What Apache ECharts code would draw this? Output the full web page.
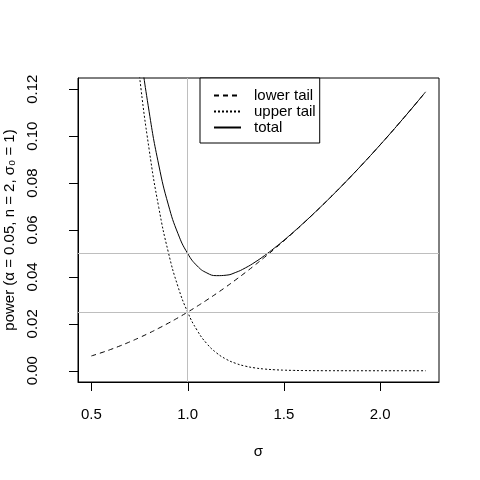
<!DOCTYPE html>
<html>
<head>
<meta charset="utf-8">
<script src="https://cdn.jsdelivr.net/npm/echarts@6/dist/echarts.min.js"></script>
<style>
    html, body { margin: 0; padding: 0; background: #fff; }
    #main { width: 480px; height: 480px; }
</style>
</head>
<body>
<div id="main"></div>
<script>
// sigma values along the x axis
var sigma = [0.50, 0.55, 0.60, 0.65, 0.70, 0.75, 0.80, 0.85, 0.90, 0.95,
    1.00, 1.05, 1.10, 1.15, 1.20, 1.25, 1.30, 1.35, 1.40, 1.45,
    1.50, 1.55, 1.60, 1.65, 1.70, 1.75, 1.80, 1.85, 1.90, 1.95,
    2.00, 2.05, 2.10, 2.15, 2.20, 2.236];

var lowerTail = [0.00631, 0.00763, 0.00907, 0.01064, 0.01233, 0.01414, 0.01607, 0.01813, 0.02030, 0.02259,
    0.02500, 0.02753, 0.03017, 0.03293, 0.03580, 0.03879, 0.04189, 0.04509, 0.04841, 0.05184,
    0.05537, 0.05901, 0.06276, 0.06661, 0.07056, 0.07461, 0.07876, 0.08300, 0.08735, 0.09178,
    0.09631, 0.10093, 0.10565, 0.11044, 0.11533, 0.11890];

var upperTail = [0.39763, 0.32763, 0.26501, 0.21044, 0.16406, 0.12556, 0.09434, 0.06959, 0.05039, 0.03582,
    0.02500, 0.01713, 0.01152, 0.00761, 0.00493, 0.00314, 0.00196, 0.00120, 0.00072, 0.00043,
    0.00025, 0.00014, 0.00008, 0.00004, 0.00002, 0.00001, 0.00001, 0, 0, 0,
    0, 0, 0, 0, 0, 0];

var total = [0.40394, 0.33525, 0.27408, 0.22108, 0.17638, 0.13970, 0.11041, 0.08771, 0.07069, 0.05841,
    0.05000, 0.04465, 0.04169, 0.04054, 0.04073, 0.04193, 0.04385, 0.04630, 0.04914, 0.05227,
    0.05562, 0.05916, 0.06284, 0.06665, 0.07058, 0.07462, 0.07876, 0.08301, 0.08735, 0.09178,
    0.09631, 0.10093, 0.10565, 0.11044, 0.11533, 0.11890];

var xTicks = [0.5, 1.0, 1.5, 2.0];
var yTicks = [0, 0.02, 0.04, 0.06, 0.08, 0.10, 0.12];
var refLevels = [0.05, 0.025];
var refSigma = 1;

var xMin = 0.4305, xMax = 2.3055;
var yMin = -0.0048, yMax = 0.1248;

function pairs(ys) {
    var out = [];
    for (var i = 0; i < sigma.length; i++) {
        out.push([sigma[i], ys[i]]);
    }
    return out;
}

var font = 'Liberation Sans, Arial, sans-serif';
var refLines = [];
for (var i = 0; i < refLevels.length; i++) {
    refLines.push({ yAxis: refLevels[i] });
}
refLines.push({ xAxis: refSigma });

var option = {
    animation: false,
    backgroundColor: '#fff',
    grid: {
        left: 78,
        right: 41,
        top: 78,
        bottom: 98,
        outerBoundsMode: 'none',
        containLabel: false,
        show: true,
        borderColor: '#000',
        borderWidth: 1,
        backgroundColor: 'transparent'
    },
    legend: {
        orient: 'vertical',
        left: 200,
        top: 78,
        padding: [10, 4, 8, 13],
        itemWidth: 27,
        itemHeight: 15,
        itemGap: 1,
        backgroundColor: '#fff',
        borderColor: '#000',
        borderWidth: 1,
        borderRadius: 0,
        itemStyle: { opacity: 0 },
        textStyle: {
            fontFamily: font,
            fontSize: 15,
            color: '#000',
            padding: [0, 0, 0, 8]
        },
        data: ['lower tail', 'upper tail', 'total']
    },
    xAxis: {
        type: 'value',
        min: xMin,
        max: xMax,
        name: 'σ',
        nameLocation: 'middle',
        nameGap: 62,
        nameTextStyle: { fontFamily: font, fontSize: 15, color: '#000' },
        axisLine: { show: true, onZero: false, lineStyle: { color: '#000', width: 1 } },
        axisTick: { show: false },
        axisLabel: {
            customValues: xTicks,
            margin: 25,
            fontFamily: font,
            fontSize: 15,
            color: '#000',
            formatter: function (v) { return v.toFixed(1); }
        },
        splitLine: { show: false }
    },
    yAxis: {
        type: 'value',
        min: yMin,
        max: yMax,
        name: 'power (α = 0.05, n = 2, σ₀ = 1)',
        nameLocation: 'middle',
        nameGap: 59,
        nameRotate: 90,
        nameTextStyle: { fontFamily: font, fontSize: 15, color: '#000' },
        axisLine: { show: true, onZero: false, lineStyle: { color: '#000', width: 1 } },
        axisTick: { show: false },
        axisLabel: {
            customValues: yTicks,
            rotate: 90,
            margin: 38,
            align: 'center',
            verticalAlign: 'bottom',
            fontFamily: font,
            fontSize: 15,
            color: '#000',
            formatter: function (v) { return v.toFixed(2); }
        },
        splitLine: { show: false }
    },
    series: [
        {
            name: 'lower tail',
            type: 'line',
            data: pairs(lowerTail),
            showSymbol: false,
            symbol: 'none',
            smooth: true,
            clip: true,
            lineStyle: { color: '#000', width: 1, type: [5, 4] },
            itemStyle: { color: '#000' },
            markLine: {
                silent: true,
                precision: 4,
                symbol: ['none', 'none'],
                label: { show: false },
                lineStyle: { color: '#bebebe', width: 1, type: 'solid' },
                data: refLines
            }
        },
        {
            name: 'upper tail',
            type: 'line',
            data: pairs(upperTail),
            showSymbol: false,
            symbol: 'none',
            smooth: true,
            clip: true,
            lineStyle: { color: '#000', width: 1, type: [2, 2] },
            itemStyle: { color: '#000' }
        },
        {
            name: 'total',
            type: 'line',
            data: pairs(total),
            showSymbol: false,
            symbol: 'none',
            smooth: true,
            clip: true,
            lineStyle: { color: '#000', width: 1, type: 'solid' },
            itemStyle: { color: '#000' }
        }
    ]
};

var myChart = echarts.init(document.getElementById('main'), null, { renderer: 'canvas' });
myChart.setOption(option);

// tick marks outside the box, positioned through the chart's own scales
var tickLen = 9;
var ticks = [];
var corner = myChart.convertToPixel({ gridIndex: 0 }, [xMin, yMin]);
var boxLeft = Math.round(corner[0]);
var boxBottom = Math.round(corner[1]);
xTicks.forEach(function (v) {
    var px = myChart.convertToPixel({ xAxisIndex: 0 }, v);
    ticks.push({
        type: 'rect', zlevel: 1, z: 100, silent: true,
        shape: { x: Math.round(px), y: boxBottom, width: 1, height: tickLen },
        style: { fill: '#000' }
    });
});
yTicks.forEach(function (v) {
    var py = myChart.convertToPixel({ yAxisIndex: 0 }, v);
    ticks.push({
        type: 'rect', zlevel: 1, z: 100, silent: true,
        shape: { x: boxLeft - tickLen, y: Math.round(py), width: tickLen, height: 1 },
        style: { fill: '#000' }
    });
});
myChart.setOption({ graphic: ticks });
</script>
</body>
</html>
